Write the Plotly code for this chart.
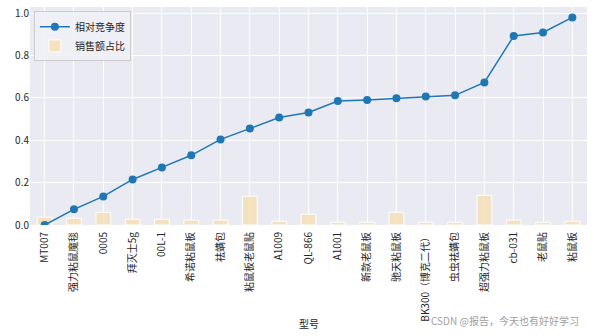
import plotly.graph_objects as go

models = ["MT007", "强力粘鼠魔毯", "0005", "拜灭士5g", "00L-1", "希诺粘鼠板", "祛螨包",
          "粘鼠板老鼠贴", "A1009", "QL-866", "A1001", "新款老鼠板", "驰天粘鼠板",
          "BK300（博克二代）", "虫虫祛螨包", "超强力粘鼠板", "cb-031", "老鼠贴", "粘鼠板"]
competition = [0.0, 0.074, 0.135, 0.215, 0.272, 0.329, 0.404, 0.455, 0.507, 0.531,
               0.585, 0.59, 0.598, 0.607, 0.612, 0.673, 0.892, 0.909, 0.98]
sales_share = [0.037, 0.032, 0.060, 0.027, 0.027, 0.023, 0.023, 0.136, 0.018, 0.051,
               0.013, 0.013, 0.060, 0.013, 0.013, 0.140, 0.023, 0.013, 0.018]
yticks = [0.0, 0.2, 0.4, 0.6, 0.8, 1.0]

FONT = "Noto Sans CJK SC, DejaVu Sans, sans-serif"
idx = list(range(len(models)))

fig = go.Figure()
fig.add_trace(go.Bar(
    x=idx, y=sales_share, name="销售额占比", width=0.5,
    marker=dict(color="rgba(245,222,179,0.8)", line=dict(color="white", width=1)),
))
fig.add_trace(go.Scatter(
    x=idx, y=competition, name="相对竞争度", mode="lines+markers",
    line=dict(color="#1f77b4", width=1.5), marker=dict(color="#1f77b4", size=8),
))

fig.update_layout(
    width=594, height=336,
    margin=dict(l=30, r=7, t=7, b=111),
    paper_bgcolor="white", plot_bgcolor="#EAEAF2",
    font=dict(family=FONT, size=10, color="#262626"),
    showlegend=True,
    legend=dict(x=0.007, y=0.98, xanchor="left", yanchor="top",
                bgcolor="rgba(240,240,246,0.9)", bordercolor="#CCCCCC", borderwidth=1,
                font=dict(size=10, family=FONT), traceorder="reversed",
                itemwidth=30, tracegroupgap=0),
    xaxis=dict(
        tickmode="array", tickvals=idx, ticktext=models, tickangle=-90,
        range=[-0.5, 18.5], showgrid=True, gridcolor="white", gridwidth=1,
        zeroline=False, showline=False, ticks="", tickfont=dict(size=10),
        ticklabelstandoff=4, automargin=False,
    ),
    yaxis=dict(
        range=[0, 1.029], tickvals=yticks, ticktext=[f"{v:.1f}" for v in yticks],
        showgrid=True, gridcolor="white", gridwidth=1, zeroline=False,
        showline=False, ticks="", tickfont=dict(size=10), automargin=False,
    ),
    annotations=[
        dict(text="型号", xref="paper", yref="paper", x=0.5, y=-0.454,
             xanchor="center", yanchor="middle", showarrow=False,
             font=dict(size=10, color="#262626", family=FONT)),
        dict(text="CSDN @报告，今天也有好好学习", xref="paper", yref="paper",
             x=0.99, y=-0.44, xanchor="right", yanchor="middle", showarrow=False,
             font=dict(size=10, color="#A0A0A0", family=FONT)),
    ],
)

fig.write_html("out.html")
